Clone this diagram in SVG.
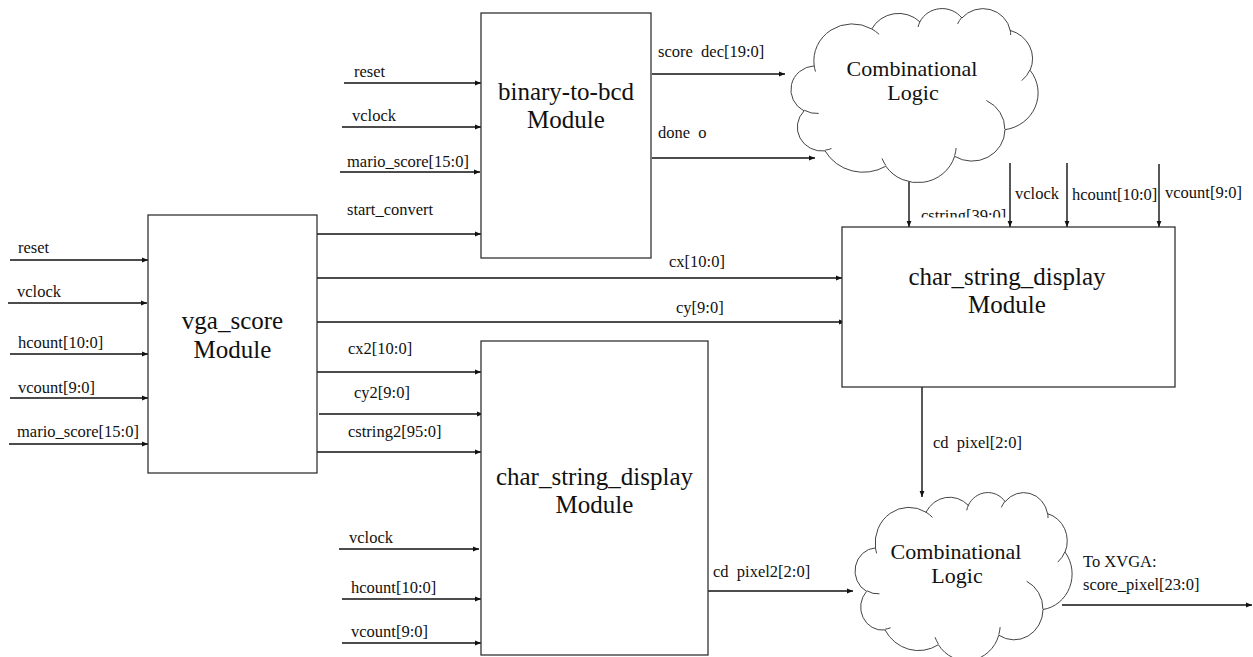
<svg xmlns="http://www.w3.org/2000/svg" xmlns:xlink="http://www.w3.org/1999/xlink" width="1253" height="657" viewBox="0 0 1253 657" font-family="'Liberation Serif', 'DejaVu Serif', serif">
<style>
.box{fill:#fff;stroke:#333;stroke-width:1.3}
.cl{fill:#fff;stroke:#444;stroke-width:1;vector-effect:non-scaling-stroke}
.ci{fill:none;stroke:#444;stroke-width:1;vector-effect:non-scaling-stroke}
.w{stroke:#111;stroke-width:1.4;fill:none;marker-end:url(#ah)}
text{font-family:'Liberation Serif','DejaVu Serif',serif}
.t{font-size:16.5px;fill:#111}
.big{font-size:25px;fill:#111;text-anchor:middle}
.cloudtxt{font-size:22px;fill:#111;text-anchor:middle}
</style>
<defs>
<marker id="ah" markerWidth="6" markerHeight="6" refX="6" refY="3" orient="auto" markerUnits="userSpaceOnUse"><path d="M0,0.6 L6,3 L0,5.4 z" fill="#111"/></marker>
<g id="cloud">
<path class="cl" d="M3900 14370 A6753 9190 0 0 1 14006 5203 A5333 7267 0 0 1 22458 3435 A4365 5945 0 0 1 29835 2484 A4857 6595 0 0 1 38319 5581 A5333 7273 0 0 1 41819 15465 A6775 9220 0 0 1 37405 30207 A5785 7867 0 0 1 28556 36817 A6752 9215 0 0 1 16481 39269 A7720 10543 0 0 1 5803 35475 A4360 5918 0 0 1 2112 25553 A4345 5945 0 0 1 3900 14370 Z"/>
<path class="ci" d="M4694 26177 A4345 5945 0 0 1 2160 25380 M6928 34899 A4360 5918 0 0 1 5819 35281 M16478 39090 A6752 9215 0 0 1 15810 37350 M28827 34751 A6752 9215 0 0 1 28561 36659 M34129 22954 A5785 7867 0 0 1 37380 30090 M41798 15354 A5333 7273 0 0 1 40349 18031 M38324 5426 A4857 6595 0 0 1 38400 6691 M29078 3952 A4857 6595 0 0 1 29821 2339 M22141 4720 A4365 5945 0 0 1 22501 3329 M14000 5192 A6753 9190 0 0 1 15301 6543 M4127 15789 A6753 9190 0 0 1 3900 14370"/>
</g>
<clipPath id="cstrClip"><rect x="900" y="190" width="120" height="27.5"/></clipPath>
</defs>
<rect width="1253" height="657" fill="#fff"/>

<g id="connectors">
<line class="w" x1="344" y1="83" x2="481" y2="83"/>
<line class="w" x1="342" y1="127" x2="481" y2="127"/>
<line class="w" x1="340" y1="172" x2="480" y2="172"/>
<line class="w" x1="317" y1="234" x2="481" y2="234"/>
<line class="w" x1="652" y1="74" x2="785" y2="74"/>
<line class="w" x1="652" y1="158" x2="815" y2="158"/>
<line class="w" x1="10" y1="260" x2="148" y2="260"/>
<line class="w" x1="8" y1="303" x2="147" y2="303"/>
<line class="w" x1="10" y1="354" x2="148" y2="354"/>
<line class="w" x1="10" y1="398" x2="148" y2="398"/>
<line class="w" x1="9" y1="444" x2="148" y2="444"/>
<line class="w" x1="317" y1="278" x2="842" y2="278"/>
<line class="w" x1="317" y1="322" x2="845" y2="322"/>
<line class="w" x1="317" y1="372" x2="481" y2="372"/>
<line class="w" x1="319" y1="414" x2="483" y2="414"/>
<line class="w" x1="317" y1="452" x2="481" y2="452"/>
<line class="w" x1="339" y1="549" x2="479" y2="549"/>
<line class="w" x1="342" y1="599" x2="481" y2="599"/>
<line class="w" x1="342" y1="643" x2="481" y2="643"/>
<line class="w" x1="708" y1="591" x2="853" y2="591"/>
<line class="w" x1="909" y1="177" x2="909" y2="227"/>
<line class="w" x1="1010" y1="163" x2="1010" y2="227"/>
<line class="w" x1="1067" y1="163" x2="1067" y2="227"/>
<line class="w" x1="1159" y1="164" x2="1159" y2="227"/>
<line class="w" x1="922" y1="387" x2="922" y2="497"/>
<line class="w" x1="1062" y1="605" x2="1252" y2="605"/>
</g>

<g id="labels">
<text class="t" x="354" y="77">reset</text>
<text class="t" x="352" y="121">vclock</text>
<text class="t" x="347" y="167">mario_score[15:0]</text>
<text class="t" x="347" y="215">start_convert</text>
<text class="t" x="658" y="57" xml:space="preserve">score  dec[19:0]</text>
<text class="t" x="658" y="138" xml:space="preserve">done  o</text>
<text class="t" x="921" y="221" clip-path="url(#cstrClip)">cstring[39:0]</text>
<text class="t" x="1015" y="199">vclock</text>
<text class="t" x="1072" y="200">hcount[10:0]</text>
<text class="t" x="1165" y="198">vcount[9:0]</text>
<text class="t" x="669" y="267">cx[10:0]</text>
<text class="t" x="676" y="313">cy[9:0]</text>
<text class="t" x="18" y="253">reset</text>
<text class="t" x="17" y="297">vclock</text>
<text class="t" x="18" y="348">hcount[10:0]</text>
<text class="t" x="18" y="393">vcount[9:0]</text>
<text class="t" x="17" y="437">mario_score[15:0]</text>
<text class="t" x="348" y="354">cx2[10:0]</text>
<text class="t" x="354" y="398">cy2[9:0]</text>
<text class="t" x="348" y="437">cstring2[95:0]</text>
<text class="t" x="349" y="543">vclock</text>
<text class="t" x="351" y="593">hcount[10:0]</text>
<text class="t" x="351" y="637">vcount[9:0]</text>
<text class="t" x="713" y="577" xml:space="preserve">cd  pixel2[2:0]</text>
<text class="t" x="933" y="448" xml:space="preserve">cd  pixel[2:0]</text>
<text class="t" x="1083" y="567">To XVGA:</text>
<text class="t" x="1083" y="590">score_pixel[23:0]</text>
</g>

<g id="bcd">
<rect class="box" x="481" y="13" width="170" height="245"/>
<text class="big" x="566" y="100">binary-to-bcd</text>
<text class="big" x="566" y="128">Module</text>
</g>

<g id="vga">
<rect class="box" x="148" y="215" width="169" height="258"/>
<text class="big" x="232.5" y="329">vga_score</text>
<text class="big" x="232.5" y="358">Module</text>
</g>

<g id="csd2">
<rect class="box" x="481" y="341" width="227" height="314"/>
<text class="big" x="594.5" y="485">char_string_display</text>
<text class="big" x="594.5" y="513">Module</text>
</g>

<g id="csd1">
<rect class="box" x="842" y="227" width="333" height="160"/>
<text class="big" x="1007" y="285">char_string_display</text>
<text class="big" x="1007" y="313">Module</text>
</g>

<g id="cloud1">
<use xlink:href="#cloud" transform="translate(792,8) scale(0.005694,0.004028)"/>
<text class="cloudtxt" x="912" y="76">Combinational</text>
<text class="cloudtxt" x="913" y="100">Logic</text>
</g>

<g id="cloud2">
<use xlink:href="#cloud" transform="translate(856,492) scale(0.005,0.003889)"/>
<text class="cloudtxt" x="956" y="559">Combinational</text>
<text class="cloudtxt" x="957" y="583">Logic</text>
</g>
</svg>
